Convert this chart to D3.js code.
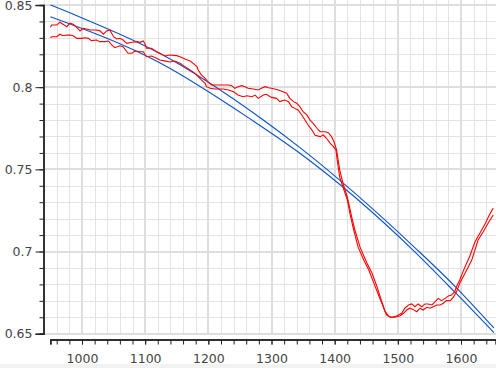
<!DOCTYPE html>
<html><head><meta charset="utf-8">
<script src="https://cdn.jsdelivr.net/npm/d3@7"></script>
<style>
html,body{margin:0;padding:0;background:#fff;overflow:hidden;}
svg{display:block;}
text{font-family:"DejaVu Sans",sans-serif;}
</style></head><body>
<svg id="c" width="496" height="368"></svg>
<script>
// ---- data ----
const xMajorTicks = [1000,1100,1200,1300,1400,1500,1600];
const yMajorTicks = [0.65,0.7,0.75,0.8,0.85];

const red1X = [950,952,960,965,970,976,981,986,992,997,1002,1007,1013,1021,1028,1034,1039,1044,1050,1055,1060,1065,1071,1079,1087,1092,1097,1100,1102,1110,1118,1123,1131,1139,1150,1155,1163,1171,1176,1182,1184,1189,1195,1200,1205,1232,1237,1242,1247,1253,1258,1263,1271,1279,1284,1290,1295,1300,1311,1319,1324,1329,1335,1340,1345,1350,1356,1361,1366,1372,1377,1385,1390,1395,1399,1403,1408,1413,1420,1427,1432,1440,1451,1459,1467,1472,1480,1485,1490,1498,1506,1511,1517,1522,1527,1532,1538,1543,1548,1554,1559,1564,1569,1575,1580,1585,1590,1594,1598,1603,1609,1614,1622,1630,1638,1644,1651];
const red1Y = [0.8364,0.8378,0.8378,0.8395,0.8383,0.8368,0.8389,0.8383,0.8362,0.8342,0.8358,0.8354,0.8348,0.8348,0.8344,0.8322,0.8342,0.8348,0.8307,0.8293,0.8297,0.8287,0.8267,0.8273,0.8277,0.8273,0.8281,0.8261,0.8237,0.8237,0.8216,0.8206,0.8190,0.8196,0.8192,0.8185,0.8171,0.8159,0.8145,0.8125,0.8105,0.8074,0.8054,0.8030,0.8013,0.8013,0.8009,0.7993,0.8003,0.8009,0.8003,0.7993,0.7989,0.7983,0.7993,0.8003,0.7997,0.7993,0.7983,0.7971,0.7963,0.7932,0.7912,0.7902,0.7881,0.7851,0.7831,0.7800,0.7780,0.7750,0.7729,0.7729,0.7723,0.7699,0.7668,0.7618,0.7496,0.7417,0.7332,0.7210,0.7131,0.7028,0.6930,0.6869,0.6786,0.6725,0.6634,0.6608,0.6600,0.6608,0.6624,0.6655,0.6675,0.6681,0.6664,0.6681,0.6664,0.6681,0.6681,0.6675,0.6695,0.6715,0.6701,0.6715,0.6729,0.6735,0.6756,0.6796,0.6827,0.6876,0.6930,0.6973,0.7058,0.7113,0.7167,0.7216,0.7265];

const red2X = [950,952,960,965,970,976,981,986,992,1000,1005,1010,1015,1023,1028,1036,1042,1047,1052,1060,1065,1073,1079,1084,1092,1097,1102,1110,1118,1123,1131,1139,1147,1155,1163,1171,1179,1184,1189,1195,1197,1203,1211,1224,1232,1240,1247,1255,1261,1269,1274,1279,1287,1292,1300,1308,1313,1321,1327,1332,1337,1342,1348,1353,1358,1364,1369,1377,1382,1387,1393,1398,1402,1404,1408,1413,1420,1424,1429,1437,1446,1454,1462,1470,1482,1488,1495,1503,1509,1514,1519,1524,1530,1535,1540,1546,1551,1556,1562,1567,1572,1577,1583,1588,1593,1598,1609,1617,1627,1635,1643,1651];
const red2Y = [0.8301,0.8307,0.8307,0.8322,0.8313,0.8317,0.8317,0.8313,0.8297,0.8297,0.8301,0.8297,0.8283,0.8287,0.8277,0.8277,0.8281,0.8257,0.8240,0.8252,0.8246,0.8206,0.8206,0.8220,0.8216,0.8216,0.8185,0.8190,0.8176,0.8165,0.8160,0.8153,0.8159,0.8145,0.8125,0.8105,0.8084,0.8064,0.8044,0.8024,0.8003,0.7993,0.7989,0.7989,0.7983,0.7972,0.7952,0.7942,0.7948,0.7942,0.7952,0.7932,0.7952,0.7957,0.7938,0.7932,0.7912,0.7922,0.7912,0.7881,0.7871,0.7861,0.7831,0.7800,0.7770,0.7739,0.7708,0.7699,0.7709,0.7689,0.7658,0.7638,0.7618,0.7557,0.7453,0.7393,0.7314,0.7234,0.7149,0.7028,0.6948,0.6888,0.6808,0.6729,0.6614,0.6600,0.6600,0.6608,0.6624,0.6644,0.6655,0.6648,0.6634,0.6655,0.6644,0.6661,0.6655,0.6664,0.6675,0.6675,0.6685,0.6701,0.6701,0.6722,0.6756,0.6807,0.6888,0.6948,0.7070,0.7119,0.7174,0.7222];

const blue1X = [950,989,1123,1287,1345,1531,1590,1652];
const blue1Y = [0.8500,0.8439,0.8206,0.7800,0.7632,0.7009,0.6790,0.6535];
const blue2X = [950,1123,1269,1345,1524,1590,1652];
const blue2Y = [0.8429,0.8149,0.7800,0.7598,0.7009,0.6754,0.6507];

// ---- chart ----
const svg = d3.select("#c");
const W = 496, H = 368;
const x = d3.scaleLinear().domain([950,1650]).range([50.4,492.6]);
const y = d3.scaleLinear().domain([0.65,0.85]).range([333.7,5]);
const plot = {l:45, r:496, t:0, b:335};

// bottom strip
svg.append("rect").attr("x",0).attr("y",364).attr("width",W).attr("height",4).attr("fill","#f2f2f2");

const grid = svg.append("g");
const vMinor = d3.range(940,1661,20);
const hMinor = d3.range(65,86,1).map(v=>v/100);
grid.selectAll(".vm").data(vMinor.filter(v=>v%100!==0)).join("line")
  .attr("x1",d=>Math.round(x(d))+0.5).attr("x2",d=>Math.round(x(d))+0.5)
  .attr("y1",plot.t).attr("y2",plot.b).attr("stroke","#e3e3e3").attr("stroke-width",1);
grid.selectAll(".hm").data(hMinor.filter(v=>Math.round(v*100)%5!==0)).join("line")
  .attr("y1",d=>Math.round(y(d))+0.5).attr("y2",d=>Math.round(y(d))+0.5)
  .attr("x1",plot.l).attr("x2",plot.r).attr("stroke","#e3e3e3").attr("stroke-width",1);
grid.selectAll(".vM").data(xMajorTicks).join("line")
  .attr("x1",d=>Math.round(x(d))).attr("x2",d=>Math.round(x(d)))
  .attr("y1",plot.t).attr("y2",plot.b).attr("stroke","#dedede").attr("stroke-width",2);
grid.selectAll(".hM").data(yMajorTicks).join("line")
  .attr("y1",d=>Math.round(y(d))).attr("y2",d=>Math.round(y(d)))
  .attr("x1",plot.l).attr("x2",plot.r).attr("stroke","#dedede").attr("stroke-width",2);

// lines
const line = d3.line().x(d=>x(d[0])).y(d=>y(d[1]));
const series = [
  {X:blue1X, Y:blue1Y, c:"#0b52c8", curve:d3.curveMonotoneX},
  {X:blue2X, Y:blue2Y, c:"#0b52c8", curve:d3.curveMonotoneX},
  {X:red1X, Y:red1Y, c:"#ff0000", curve:d3.curveLinear},
  {X:red2X, Y:red2Y, c:"#ff0000", curve:d3.curveLinear}
];
series.forEach(s=>{
  svg.append("path").datum(s.X.map((v,i)=>[v,s.Y[i]]))
    .attr("d", line.curve(s.curve)).attr("fill","none")
    .attr("stroke",s.c).attr("stroke-width",1.1);
});

// axes
const fmt = d=>String(+d.toFixed(2));
const yAxisMinor = d3.axisLeft(y).tickValues(hMinor).tickSize(4).tickFormat("");
const yAxis = d3.axisLeft(y).tickValues(yMajorTicks).tickSize(8).tickPadding(3).tickFormat(fmt);
const gy = svg.append("g").attr("transform","translate(43.5,0)");
gy.call(yAxisMinor);
gy.append("g").call(yAxis);

const xAll = d3.range(960,1651,20);
const x2 = x.copy().domain([950,1655]).range([x(950), x(1655)]);
const gx = svg.append("g").attr("transform","translate(0,339.5)");
gx.call(d3.axisBottom(x2).tickValues(xAll).tickSize(5).tickFormat(""));
gx.append("g").call(d3.axisBottom(x2).tickValues(xMajorTicks).tickSize(5).tickPadding(10).tickFormat(d3.format("d")));

svg.selectAll(".domain").attr("stroke","#222").attr("stroke-width",1.4);
svg.selectAll(".tick line").attr("stroke","#222");
svg.selectAll(".tick text").attr("font-size","12.5px").attr("fill","#444").attr("font-family","DejaVu Sans");
</script>
</body></html>
